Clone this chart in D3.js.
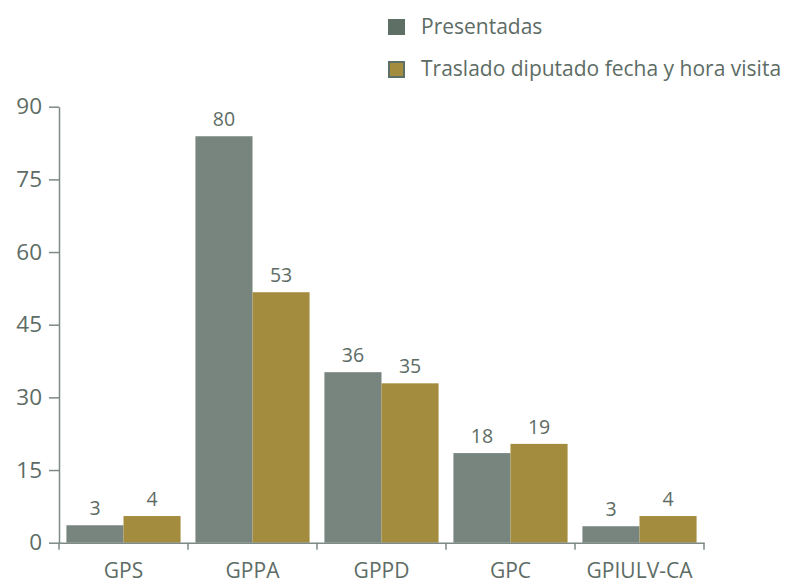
<!DOCTYPE html>
<html><head><meta charset="utf-8">
<script src="https://cdn.jsdelivr.net/npm/d3@7"></script>
<style>body{margin:0;background:#fff}svg{display:block}text{font-family:"Open Sans",sans-serif}</style>
</head><body><svg id="c" width="786" height="584"></svg>
<script>
const categories = ["GPS","GPPA","GPPD","GPC","GPIULV-CA"];
const seriesNames = ["Presentadas","Traslado diputado fecha y hora visita"];
const presentadas = [3.6, 83.9, 35.2, 18.5, 3.4];
const traslado = [5.5, 51.7, 32.9, 20.4, 5.5];
const presentadasLabels = ["3","80","36","18","3"];
const trasladoLabels = ["4","53","35","19","4"];
const yTicks = [0,15,30,45,60,75,90];

const colors = ["#78857f","#a38c3e"];
const textColor = "#5d6c65";
const axisColor = "#7d8a85";

const svg = d3.select("#c");
const x0 = d3.scaleBand().domain(categories).range([59,704]).padding(0);
const x1 = d3.scaleBand().domain(seriesNames).range([0,x0.bandwidth()]).paddingOuter(0.13).paddingInner(0);
const y = d3.scaleLinear().domain([0,90]).range([542.7,106.7]);

const rows = categories.map((c,i)=>({c, vals:[
  {s:seriesNames[0], v:presentadas[i], l:presentadasLabels[i]},
  {s:seriesNames[1], v:traslado[i], l:trasladoLabels[i]}]}));

const g = svg.append("g");
const grp = g.selectAll("g.cat").data(rows).join("g").attr("transform",d=>`translate(${x0(d.c)},0)`);
grp.selectAll("rect").data(d=>d.vals).join("rect")
  .attr("x",d=>x1(d.s)).attr("width",x1.bandwidth())
  .attr("y",d=>y(d.v)).attr("height",d=>y(0)-y(d.v))
  .attr("fill",(d,i)=>colors[i]);
grp.selectAll("text").data(d=>d.vals).join("text")
  .attr("x",d=>x1(d.s)+x1.bandwidth()/2).attr("y",d=>y(d.v)-10)
  .attr("text-anchor","middle").attr("font-size",19.5).attr("fill",textColor)
  .text(d=>d.l);

// y axis
const ya = svg.append("g").attr("transform","translate(59,0)")
  .call(d3.axisLeft(y).tickValues(yTicks).tickSize(10).tickPadding(7).tickSizeOuter(0));
ya.select(".domain").attr("stroke",axisColor).attr("stroke-width",1.5);
ya.selectAll(".tick line").attr("stroke",axisColor).attr("stroke-width",1.5);
ya.selectAll(".tick text").attr("font-size",22.5).attr("fill",textColor).attr("font-family","Open Sans");

// x axis
const xa = svg.append("g").attr("transform",`translate(0,${y(0)})`)
  .call(d3.axisBottom(x0).tickSize(0).tickPadding(20));
xa.select(".domain").attr("stroke",axisColor).attr("stroke-width",1.5);
xa.selectAll(".tick text").attr("font-size",21).attr("fill",textColor).attr("font-family","Open Sans");
const bounds = [...categories.map(c=>x0(c)), x0.range()[1]];
xa.selectAll("line.b").data(bounds).join("line").attr("class","b")
  .attr("x1",d=>d).attr("x2",d=>d).attr("y1",0).attr("y2",7)
  .attr("stroke",axisColor).attr("stroke-width",1.5);

// legend
const leg = svg.append("g");
const li = leg.selectAll("g").data(seriesNames).join("g")
  .attr("transform",(d,i)=>`translate(388,${19+i*42})`);
li.append("rect").attr("x",(d,i)=>i?1:0).attr("y",(d,i)=>i?1:0)
  .attr("width",(d,i)=>i?15:17).attr("height",(d,i)=>i?15:16)
  .attr("fill",(d,i)=>i?colors[1]:"#5e6f66")
  .attr("stroke",(d,i)=>i?"#5e6f66":"none").attr("stroke-width",2);
li.append("text").attr("x",33).attr("y",15).attr("font-size",21).attr("fill",textColor).text(d=>d);
</script></body></html>
